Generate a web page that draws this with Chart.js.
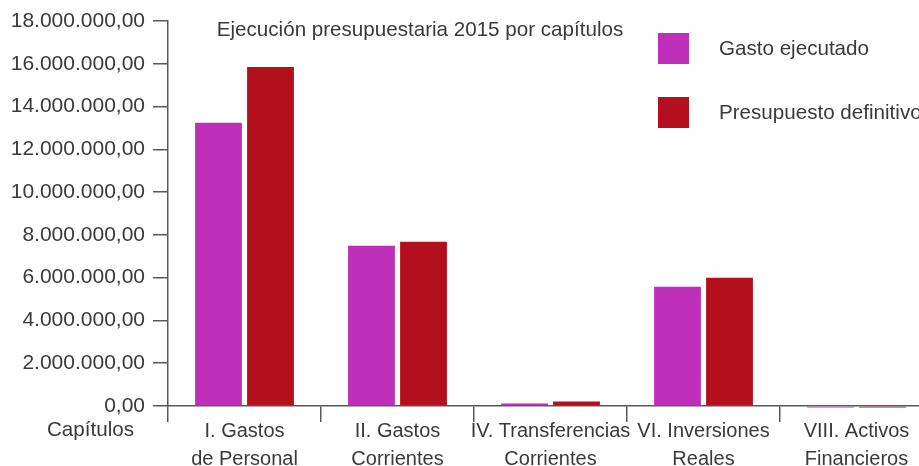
<!DOCTYPE html>
<html><head><meta charset="utf-8">
<script src="https://cdn.jsdelivr.net/npm/chart.js@4"></script>
<style>
html,body{margin:0;padding:0;overflow:hidden;background:#fff;width:919px;height:466px}
#wrap{position:relative;width:940px;height:466px}
</style></head><body>
<div id="wrap"><canvas id="c" width="940" height="466"></canvas></div>
<script>
const categories = [["I. Gastos","de Personal"],["II. Gastos","Corrientes"],["IV. Transferencias","Corrientes"],["VI. Inversiones","Reales"],["VIII. Activos","Financieros"]];
const gastoEjecutado = [13240000, 7490000, 120000, 5580000, -70000];
const presupuestoDefinitivo = [15850000, 7680000, 210000, 6000000, -70000];
const seriesNames = ["Gasto ejecutado", "Presupuesto definitivo"];
const yTickValues = [0, 2000000, 4000000, 6000000, 8000000, 10000000, 12000000, 14000000, 16000000, 18000000];
const yTickLabels = ["0,00","2.000.000,00","4.000.000,00","6.000.000,00","8.000.000,00","10.000.000,00","12.000.000,00","14.000.000,00","16.000.000,00","18.000.000,00"];
const titleText = "Ejecución presupuestaria 2015 por capítulos";
const xAxisTitle = "Capítulos";

const FONT = '"Liberation Sans", Arial, sans-serif';
const TXT = '#3a3a3a';
const AX = '#595959';

const overlay = {
  id: 'overlay',
  afterDraw(chart) {
    const ctx = chart.ctx;
    ctx.save();
    ctx.font = '20.6px ' + FONT;
    ctx.fillStyle = TXT;
    ctx.textBaseline = 'middle';
    ctx.textAlign = 'center';
    ctx.fillText(titleText, 420, 30);
    chart.data.datasets.forEach((ds, i) => {
      const y = 33 + i * 64;
      ctx.fillStyle = ds.backgroundColor;
      ctx.fillRect(658, y, 31, 31);
      ctx.fillStyle = TXT;
      ctx.textAlign = 'left';
      ctx.fillText(ds.label, 719, y + 16);
    });
    ctx.textAlign = 'right';
    ctx.fillText(xAxisTitle, 134, 430);
    ctx.restore();
  }
};

new Chart(document.getElementById('c'), {
  type: 'bar',
  data: {
    labels: categories,
    datasets: [
      { label: seriesNames[0], data: gastoEjecutado, backgroundColor: '#BE30B9', clip: false,
        barPercentage: 0.9, categoryPercentage: 0.68 },
      { label: seriesNames[1], data: presupuestoDefinitivo, backgroundColor: '#B40F1D', clip: false,
        barPercentage: 0.9, categoryPercentage: 0.68 }
    ]
  },
  options: {
    responsive: false,
    animation: false,
    devicePixelRatio: 1,
    layout: { padding: { left: 0, right: 7, top: 21, bottom: 0 } },
    plugins: { legend: { display: false }, title: { display: false }, tooltip: { enabled: false } },
    scales: {
      x: {
        grid: { drawOnChartArea: false, drawTicks: true, tickLength: 16, color: AX, lineWidth: 1.5, offset: true },
        border: { display: true, color: AX, width: 1.5 },
        ticks: { font: { family: FONT, size: 20, lineHeight: 1.4 }, color: TXT, padding: -5, maxRotation: 0, autoSkip: false },
        afterFit: s => { s.height = 60; }
      },
      y: {
        min: 0, max: 18000000,
        afterBuildTicks: s => { s.ticks = yTickValues.map(v => ({ value: v })); },
        ticks: { font: { family: FONT, size: 21 }, color: TXT, padding: 8,
                 callback: (v) => yTickLabels[yTickValues.indexOf(v)] },
        grid: { drawOnChartArea: false, tickLength: 15, color: AX, lineWidth: 1.5 },
        border: { display: true, color: AX, width: 1.5 },
        afterFit: s => { s.width = 168; }
      }
    }
  },
  plugins: [overlay]
});
</script>
</body></html>
